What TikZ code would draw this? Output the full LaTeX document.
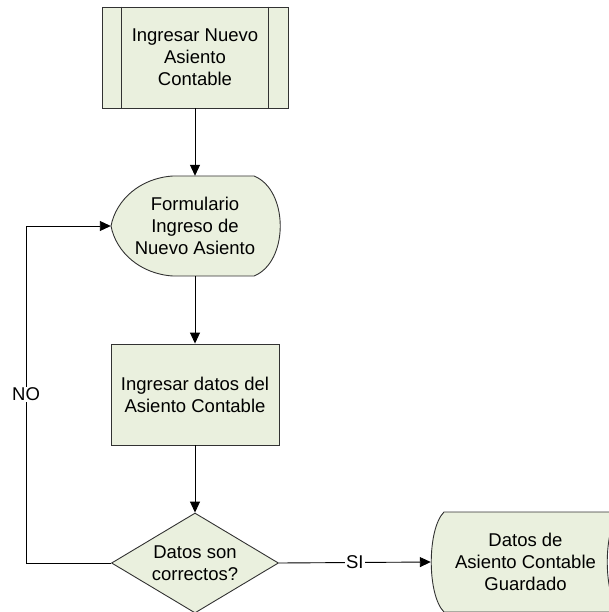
\documentclass[tikz,border=0pt]{standalone}
\usepackage{fontspec}
\setmainfont{Liberation Sans}
\usetikzlibrary{arrows.meta,shapes.geometric}
\definecolor{shapefill}{RGB}{234,240,222}
\definecolor{shapeline}{RGB}{50,50,50}
\begin{document}
\begin{tikzpicture}[x=1pt,y=-1pt,
  every node/.style={font=\fontsize{18.5}{22}\selectfont, align=center, inner sep=0pt},
  shapeedge/.style={draw=shapeline, line width=0.9pt, fill=shapefill},
  flow/.style={draw=black, line width=0.9pt, -{Triangle[length=11pt,width=10pt]}},
  lbl/.style={fill=white, inner sep=1pt}
]
\useasboundingbox (0,0) rectangle (609,612);
\clip (0,0) rectangle (609,612);

% predefined process: start of the entry
\node[shapeedge, minimum width=186pt, minimum height=101pt] (start) at (195,57.5)
  {Ingresar Nuevo\\Asiento\\Contable};
\draw[shapeline, line width=0.9pt]
  ([xshift=20pt]start.north west) -- ([xshift=20pt]start.south west)
  ([xshift=-20pt]start.north east) -- ([xshift=-20pt]start.south east);

% display shape: entry form
\path[shapeedge] (173,176) -- (254,176)
  .. controls (289,190) and (289,262) .. (254,276) -- (173,276)
  .. controls (140,274) and (116,252) .. (111,226)
  .. controls (116,200) and (140,178) .. cycle;
\node[minimum width=168pt, minimum height=100pt] (form) at (195,226)
  {Formulario\\Ingreso de\\Nuevo Asiento};

% process step
\node[shapeedge, minimum width=168pt, minimum height=101pt] (proc) at (195,394.5)
  {Ingresar datos del\\Asiento Contable};

% decision
\node[shapeedge, diamond, aspect=1.67, minimum width=167pt, minimum height=100pt] (check)
  at (195,563) {Datos son\\correctos?};

% stored data
\path[shapeedge] (444,512) -- (620,512)
  .. controls (603,529) and (603,595) .. (620,612) -- (444,612)
  .. controls (427,595) and (427,529) .. cycle;
\node[minimum width=189pt, minimum height=100pt] (saved) at (525.5,562)
  {Datos de\\Asiento Contable\\Guardado};

% connectors
\draw[flow] (start.south) -- (form.north);
\draw[flow] (form.south) -- (proc.north);
\draw[flow] (proc.south) -- (check.north);
\draw[flow] (check.west) -- ++(-85,0) |- node[pos=0.25, lbl] {NO} (form.west);
\draw[flow] (check.east) -- node[lbl] {SI} (saved.west);
\end{tikzpicture}
\end{document}
